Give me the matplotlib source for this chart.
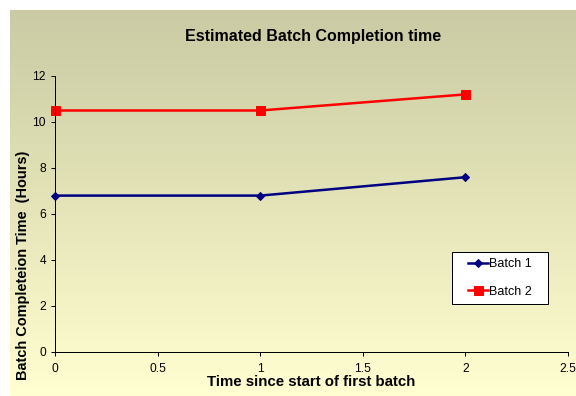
import numpy as np
import matplotlib
matplotlib.use("Agg")
import matplotlib.pyplot as plt
from matplotlib.colors import LinearSegmentedColormap
from matplotlib.patches import Rectangle

plt.rcParams['font.family'] = ['Liberation Sans', 'DejaVu Sans']

x = [0, 1, 2]
batch1 = [6.8, 6.8, 7.6]
batch2 = [10.5, 10.5, 11.2]
xticks = [0, 0.5, 1, 1.5, 2, 2.5]
yticks = [0, 2, 4, 6, 8, 10, 12]

W, H, DPI = 576, 396, 72
fig = plt.figure(figsize=(W / DPI, H / DPI), dpi=DPI, facecolor='white')

# gradient backdrop for the chart area
bg = fig.add_axes([10 / W, 0, 1 - 10 / W, 1 - 10 / H], zorder=0)
cmap = LinearSegmentedColormap.from_list('bg', ['#CACAA4', '#E4E4B8', '#FFFFD2'])
grad = np.linspace(0, 1, 256).reshape(-1, 1)
bg.imshow(grad, aspect='auto', cmap=cmap, extent=[0, 1, 0, 1], origin='upper')
bg.axis('off')

ax = fig.add_axes([55 / W, (H - 352) / H, (568 - 55) / W, (352 - 76) / H], zorder=1)
ax.patch.set_alpha(0)
ax.plot(x, batch1, color='#000080', lw=2.5, marker='D', ms=6, label='Batch 1', clip_on=False)
ax.plot(x, batch2, color='#FF0000', lw=2.5, marker='s', ms=9, label='Batch 2', clip_on=False)

ax.set_xlim(0, 2.5)
ax.set_ylim(0, 12)
ax.set_xticks(xticks)
ax.set_xticklabels(['0', '0.5', '1', '1.5', '2', '2.5'])
ax.set_yticks(yticks)
for s in ['top', 'right']:
    ax.spines[s].set_visible(False)
for s in ['left', 'bottom']:
    ax.spines[s].set_linewidth(1)
ax.tick_params(direction='out', length=4, width=1, labelsize=12, pad=5)
ax.tick_params(axis='x', pad=7)

ax.set_xlabel('Time since start of first batch', fontsize=15, fontweight='bold', labelpad=0)
ax.set_ylabel('Batch Completeion Time  (Hours)', fontsize=14.5, fontweight='bold')
ax.yaxis.set_label_coords((30 - 55) / (568 - 55), (352 - 265) / (352 - 76))
fig.text(313 / W, 1 - 36 / H, 'Estimated Batch Completion time', ha='center', va='center',
         fontsize=16, fontweight='bold')

# legend box
fig.patches.append(Rectangle((452 / W, 1 - 304 / H), 96 / W, 52 / H, transform=fig.transFigure,
                             facecolor='white', edgecolor='black', lw=1, zorder=2))
leg = fig.legend(*ax.get_legend_handles_labels(), loc='center',
                 bbox_to_anchor=(500 / W, 1 - 278 / H), frameon=False,
                 fontsize=12.5, handlelength=1.6, handletextpad=0.1, borderpad=0,
                 labelspacing=1.25, borderaxespad=0)
leg.set_zorder(3)

fig.savefig('out.png', dpi=DPI, facecolor='white')
